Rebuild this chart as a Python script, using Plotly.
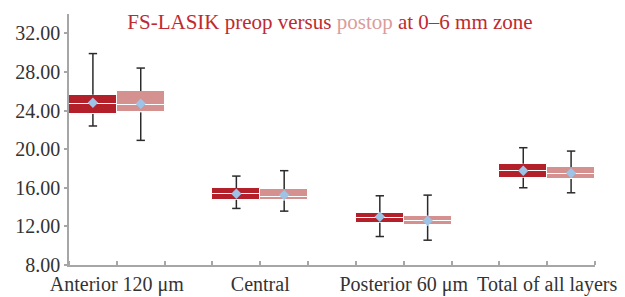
import plotly.graph_objects as go

categories = ["Anterior 120 \u03bcm", "Central", "Posterior 60 \u03bcm", "Total of all layers"]

# preop statistics
pre_low = [22.4, 13.86, 10.95, 16.0]
pre_q1 = [23.63, 14.76, 12.37, 17.04]
pre_med = [24.64, 15.34, 12.89, 17.73]
pre_q3 = [25.64, 15.96, 13.37, 18.49]
pre_high = [29.9, 17.21, 15.17, 20.15]
pre_mean = [24.8, 15.38, 13.0, 17.77]

# postop statistics
post_low = [20.91, 13.58, 10.57, 15.48]
post_q1 = [23.81, 14.69, 12.1, 16.9]
post_med = [24.6, 15.03, 12.54, 17.45]
post_q3 = [26.02, 15.86, 13.1, 18.14]
post_high = [28.4, 17.77, 15.24, 19.8]
post_mean = [24.71, 15.24, 12.58, 17.52]

y_ticks = [8, 12, 16, 20, 24, 28, 32]

PRE_COLOR = "#B4202A"
POST_COLOR = "#D4918F"
WHISK = "#2b2b2b"
MEAN_COLOR = "#9DC3E6"
FONT = "Liberation Serif"

W, H = 617, 289  # page body has an 8px margin

n = len(categories)
slot = 3  # two boxes + one gap per category
pre_x = [slot * i + 0.5 for i in range(n)]
post_x = [slot * i + 1.5 for i in range(n)]
label_x = [slot * i + 1 for i in range(n)]

fig = go.Figure()


def add_group(xs, low, q1, med, q3, high, mean, color):
    fig.add_trace(go.Bar(x=xs, base=q1, y=[m - a for m, a in zip(med, q1)], width=1.0,
                         marker=dict(color=color, line=dict(color="white", width=1)),
                         hoverinfo="skip"))
    fig.add_trace(go.Bar(x=xs, base=med, y=[b - m for b, m in zip(q3, med)], width=1.0,
                         marker=dict(color=color, line=dict(color="white", width=1)),
                         hoverinfo="skip"))
    wx, wy = [], []
    for x, lo, a, b, hi in zip(xs, low, q1, q3, high):
        wx += [x, x, None, x, x, None]
        wy += [b, hi, None, a, lo, None]
    fig.add_trace(go.Scatter(x=wx, y=wy, mode="lines", line=dict(color=WHISK, width=1.5),
                             hoverinfo="skip"))
    fig.add_trace(go.Scatter(x=xs + xs, y=high + low, mode="markers",
                             marker=dict(symbol="line-ew", size=6,
                                         line=dict(color=WHISK, width=1.5)),
                             hoverinfo="skip"))
    fig.add_trace(go.Scatter(x=xs, y=mean, mode="markers",
                             marker=dict(symbol="diamond", size=8, color=MEAN_COLOR),
                             hoverinfo="skip"))


add_group(pre_x, pre_low, pre_q1, pre_med, pre_q3, pre_high, pre_mean, PRE_COLOR)
add_group(post_x, post_low, post_q1, post_med, post_q3, post_high, post_mean, POST_COLOR)

fig.update_layout(
    width=W, height=H,
    margin=dict(l=61, r=30, t=6, b=32, autoexpand=False),
    paper_bgcolor="white", plot_bgcolor="white",
    showlegend=False, barmode="overlay", bargap=0,
    font=dict(family=FONT, size=20, color="#333333"),
    title=dict(
        text=("<span style='color:#BE2A30'>FS-LASIK preop versus </span>"
              "<span style='color:#DB9C9B'>postop</span>"
              "<span style='color:#BE2A30'> at 0\u20136 mm zone</span>"),
        x=322 / W, xanchor="center", xref="container",
        y=1 - 14 / H, yanchor="middle", yref="container",
        font=dict(family=FONT, size=21),
    ),
    xaxis=dict(
        range=[0, slot * n - 1], tickvals=label_x, ticktext=categories,
        ticks="", showline=True, linecolor="#A6A6A6", linewidth=1.5,
        showgrid=False, zeroline=False, fixedrange=True, automargin=False,
        ticklabelstandoff=0,
        minor=dict(ticks="inside", tick0=0, dtick=1, ticklen=4,
                   tickcolor="#A6A6A6", tickwidth=1.5, showgrid=False),
        tickfont=dict(family=FONT, size=20, color="#333333"),
    ),
    yaxis=dict(
        range=[8, 34], tickvals=y_ticks, tickformat=".2f",
        ticks="outside", ticklen=3, tickcolor="#A6A6A6", tickwidth=1.5,
        showline=True, linecolor="#A6A6A6", linewidth=1.5,
        showgrid=False, zeroline=False, fixedrange=True, automargin=False,
        tickfont=dict(family=FONT, size=20, color="#333333"),
    ),
)

fig.write_html("out.html")
